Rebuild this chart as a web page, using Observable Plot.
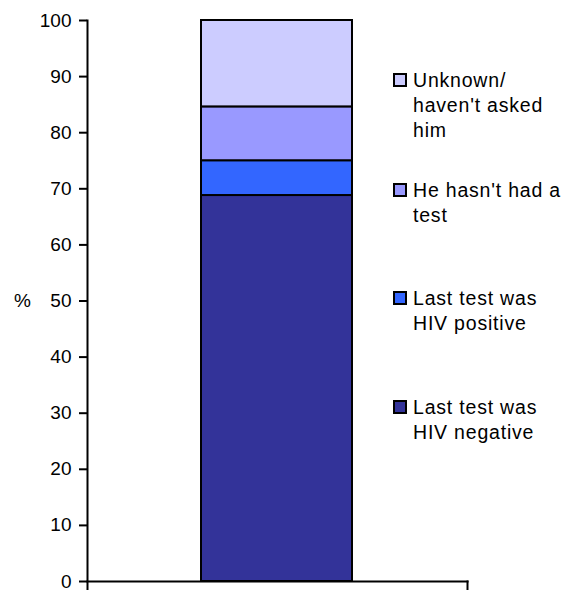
<!DOCTYPE html>
<html><head><meta charset="utf-8">
<script src="https://cdn.jsdelivr.net/npm/d3@7"></script>
<script src="https://cdn.jsdelivr.net/npm/@observablehq/plot@0.6"></script>
<style>
body{margin:0;background:#fff;font-family:"Liberation Sans",Arial,sans-serif;}
#wrap{position:relative;width:563px;height:590px;overflow:hidden;}
.leg{position:absolute;left:393px;font-size:19.5px;line-height:25px;color:#000;}
.sw{position:absolute;left:0;top:5px;width:10px;height:10px;border:2px solid #000;}
.lt{position:absolute;left:20px;top:0;white-space:pre;letter-spacing:0.8px;}
</style></head><body><div id="wrap"></div>
<script>
const groups = ["All"];
const categories = ["Last test was HIV negative", "Last test was HIV positive", "He hasn't had a test", "Unknown/ haven't asked him"];
const values = [68.8, 6.2, 9.6, 15.4];
const legendLabels = ["Last test was\nHIV negative", "Last test was\nHIV positive", "He hasn't had a\ntest", "Unknown/\nhaven't asked\nhim"];
const colors = ["#333399", "#3366FF", "#9999FF", "#CCCCFF"];
const yTicks = [0, 10, 20, 30, 40, 50, 60, 70, 80, 90, 100];

const data = categories.map((c, i) => ({group: groups[0], category: c, value: values[i]}));

const chart = Plot.plot({
  width: 563,
  height: 590,
  marginLeft: 87,
  marginRight: 96,
  marginTop: 20,
  marginBottom: 9,
  style: {fontFamily: "'Liberation Sans', Arial, sans-serif", background: "#fff", color: "#000", overflow: "visible"},
  x: {domain: groups, padding: 0.43, axis: null},
  y: {domain: [0, 100], axis: null},
  color: {domain: categories, range: colors},
  marks: [
    Plot.barY(data, {x: "group", y: "value", fill: "category", stroke: "#000", strokeWidth: 2}),
    Plot.axisY({ticks: yTicks, tickSize: 8, tickPadding: 8, fontSize: 19, strokeWidth: 2, label: null}),
    Plot.frame({anchor: "left", stroke: "#000", strokeWidth: 2, insetBottom: -9}),
    Plot.frame({anchor: "bottom", stroke: "#000", strokeWidth: 2}),
    Plot.frame({anchor: "right", stroke: "#000", strokeWidth: 2, insetTop: 561, insetBottom: -9}),
    Plot.text(["%"], {frameAnchor: "left", dx: -65, fontSize: 19, textAnchor: "middle", fill: "#000"})
  ]
});
const wrap = document.getElementById("wrap");
wrap.appendChild(chart);

const legendTop = [395, 286, 178, 68];
categories.forEach((c, i) => {
  const item = document.createElement("div");
  item.className = "leg";
  item.style.top = legendTop[i] + "px";
  const sw = document.createElement("div");
  sw.className = "sw";
  sw.style.background = colors[i];
  const lt = document.createElement("div");
  lt.className = "lt";
  lt.textContent = legendLabels[i];
  item.appendChild(sw);
  item.appendChild(lt);
  wrap.appendChild(item);
});
</script></body></html>
